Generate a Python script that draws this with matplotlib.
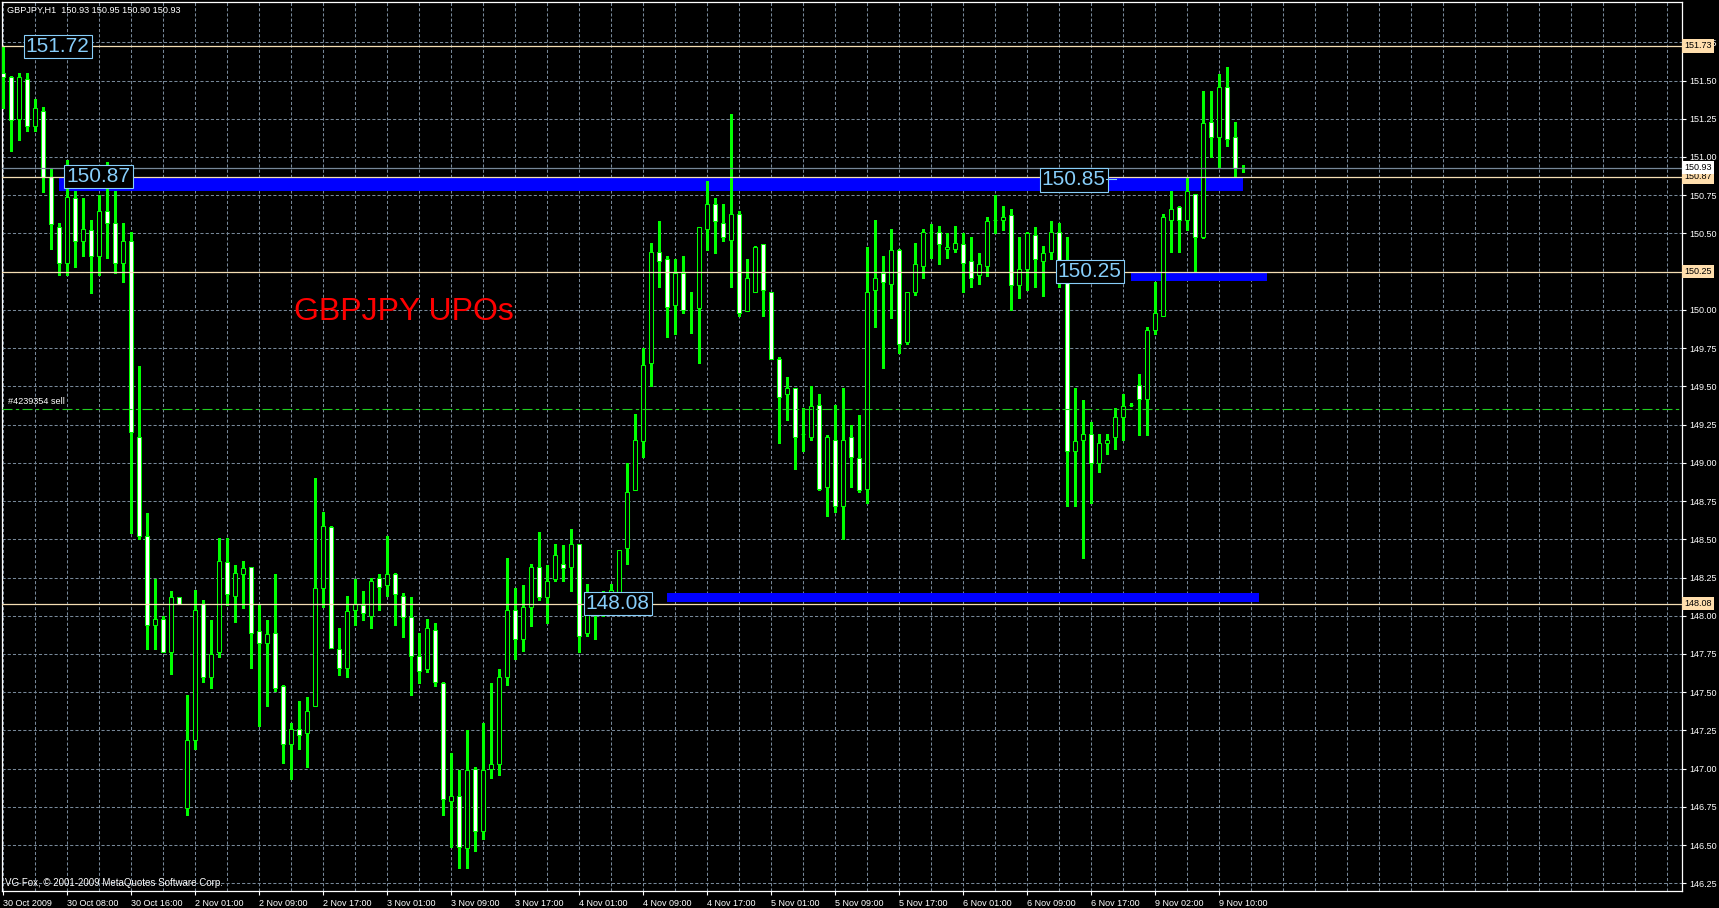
import numpy as np
import matplotlib
matplotlib.use("Agg")
import matplotlib.pyplot as plt
from matplotlib.patches import Rectangle

# GBPJPY H1 bars (open, high, low, close)
opens = [151.55, 151.52, 151.25, 151.51, 151.20, 151.30, 150.87, 150.54, 150.31, 150.73,
         150.45, 150.52, 150.35, 150.65, 150.57, 150.31, 150.45, 149.17, 148.52, 147.94,
         147.98, 147.76, 148.12, 146.74, 147.19, 148.08, 147.60, 147.76, 148.35, 148.13,
         148.27, 148.32, 147.90, 147.82, 147.89, 147.54, 147.16, 147.26, 147.23, 147.41,
         148.18, 148.58, 147.78, 147.66, 148.04, 148.07, 148.00, 148.25, 148.20, 148.27,
         148.13, 147.99, 147.74, 147.65, 147.91, 147.56, 146.79, 146.82, 146.48, 147.00,
         146.59, 147.00, 147.03, 147.60, 148.04, 147.85, 148.06, 148.32, 148.12, 148.24,
         148.34, 148.32, 148.47, 147.89, 148.04, 148.08, 148.15, 148.15, 148.44, 148.82,
         149.14, 149.65, 150.38, 150.33, 150.03, 150.24, 150.00, 150.01, 150.53, 150.69,
         150.57, 150.46, 150.63, 149.99, 150.12, 150.43, 150.12, 149.68, 149.45, 149.49,
         149.19, 149.17, 149.38, 148.84, 149.15, 148.72, 149.17, 149.03, 148.83, 150.13,
         150.24, 150.17, 150.39, 149.79, 150.12, 150.29, 150.51, 150.51, 150.40, 150.40,
         150.43, 150.32, 150.23, 150.29, 150.59, 150.59, 150.62, 150.16, 150.27, 150.49,
         150.32, 150.38, 150.51, 150.25, 149.08, 149.15, 149.19, 149.00, 149.13, 149.17,
         149.30, 149.38, 149.51, 149.42, 149.87, 149.96, 150.59, 150.67, 150.59, 150.76,
         150.48, 151.23, 151.13, 151.46, 151.13, 150.93]
highs = [151.72, 151.53, 151.55, 151.55, 151.38, 151.33, 150.93, 150.57, 150.98, 150.78,
         150.73, 150.59, 150.75, 150.97, 150.78, 150.57, 150.51, 149.63, 148.67, 148.24,
         148.00, 148.16, 148.12, 147.48, 148.17, 148.10, 147.97, 148.51, 148.51, 148.33,
         148.36, 148.32, 148.08, 147.97, 148.27, 147.55, 147.30, 147.44, 147.47, 148.90,
         148.68, 148.59, 147.92, 148.13, 148.24, 148.16, 148.25, 148.27, 148.52, 148.28,
         148.15, 148.12, 147.89, 147.98, 147.95, 147.57, 147.10, 146.99, 147.25, 147.01,
         147.30, 147.56, 147.65, 148.38, 148.18, 148.20, 148.34, 148.55, 148.33, 148.47,
         148.46, 148.57, 148.47, 148.21, 148.12, 148.16, 148.21, 148.43, 149.00, 149.32,
         149.75, 150.44, 150.58, 150.35, 150.33, 150.35, 150.12, 150.54, 150.84, 150.73,
         150.69, 151.28, 150.65, 150.33, 150.42, 150.43, 150.12, 149.69, 149.56, 149.49,
         149.36, 149.50, 149.45, 149.18, 149.38, 149.49, 149.25, 149.31, 150.41, 150.59,
         150.35, 150.53, 150.40, 150.12, 150.44, 150.53, 150.56, 150.55, 150.50, 150.55,
         150.50, 150.48, 150.37, 150.61, 150.75, 150.68, 150.66, 150.48, 150.51, 150.54,
         150.42, 150.58, 150.57, 150.48, 149.49, 149.41, 149.27, 149.19, 149.19, 149.36,
         149.45, 149.39, 149.58, 149.89, 150.18, 150.63, 150.78, 150.68, 150.87, 150.76,
         151.43, 151.43, 151.54, 151.59, 151.23, 150.95]
lows = [151.32, 151.04, 151.11, 151.17, 151.17, 150.77, 150.40, 150.23, 150.23, 150.28,
        150.35, 150.11, 150.23, 150.34, 150.24, 150.18, 148.54, 148.50, 147.78, 147.78,
        147.76, 147.62, 148.08, 146.70, 147.13, 147.57, 147.53, 147.73, 148.07, 147.96,
        148.05, 147.66, 147.28, 147.41, 147.51, 147.04, 146.93, 147.13, 147.01, 147.41,
        148.06, 147.79, 147.61, 147.60, 147.94, 147.97, 147.92, 148.04, 148.13, 147.94,
        147.86, 147.48, 147.56, 147.63, 147.54, 146.70, 146.49, 146.35, 146.35, 146.46,
        146.54, 146.94, 146.96, 147.55, 147.72, 147.77, 147.93, 148.10, 147.95, 148.23,
        148.23, 148.16, 147.76, 147.87, 147.85, 148.00, 148.05, 148.10, 148.34, 148.82,
        149.04, 149.50, 150.15, 149.82, 149.84, 149.98, 149.85, 149.65, 150.39, 150.37,
        150.45, 150.15, 149.96, 149.99, 150.12, 149.96, 149.68, 149.13, 149.28, 148.96,
        149.08, 149.15, 148.82, 148.65, 148.68, 148.50, 148.84, 148.81, 148.74, 149.89,
        149.62, 149.95, 149.72, 149.78, 150.10, 150.21, 150.34, 150.30, 150.34, 150.38,
        150.12, 150.15, 150.17, 150.22, 150.50, 150.52, 150.00, 150.08, 150.13, 150.15,
        150.09, 150.33, 150.15, 148.72, 148.72, 148.38, 148.74, 148.94, 149.06, 149.09,
        149.15, 149.37, 149.18, 149.18, 149.84, 149.96, 150.38, 150.38, 150.52, 150.25,
        150.47, 151.00, 150.93, 151.07, 150.87, 150.90]
closes = [151.52, 151.24, 151.52, 151.20, 151.32, 150.87, 150.56, 150.31, 150.74, 150.45,
          150.53, 150.35, 150.65, 150.57, 150.31, 150.45, 149.20, 148.52, 147.94, 147.98,
          147.76, 148.12, 148.08, 147.19, 148.04, 147.60, 147.75, 148.36, 148.14, 148.28,
          148.31, 147.89, 147.82, 147.88, 147.53, 147.16, 147.26, 147.22, 147.38, 148.18,
          148.59, 147.79, 147.66, 148.03, 148.08, 148.02, 148.23, 148.19, 148.27, 148.14,
          147.99, 147.74, 147.64, 147.92, 147.57, 146.80, 146.82, 146.49, 146.99, 146.59,
          146.99, 147.03, 147.60, 148.04, 147.85, 148.06, 148.32, 148.12, 148.23, 148.40,
          148.31, 148.47, 147.87, 148.04, 148.10, 148.10, 148.17, 148.43, 148.81, 149.15,
          149.64, 150.38, 150.32, 150.02, 150.24, 150.00, 150.00, 150.54, 150.69, 150.58,
          150.48, 150.63, 149.98, 150.21, 150.41, 150.13, 149.68, 149.43, 149.49, 149.17,
          149.19, 149.37, 148.83, 149.17, 148.72, 149.15, 149.04, 148.82, 150.12, 150.21,
          150.18, 150.39, 149.78, 150.12, 150.30, 150.51, 150.51, 150.43, 150.41, 150.44,
          150.31, 150.21, 150.30, 150.58, 150.59, 150.61, 150.16, 150.27, 150.50, 150.33,
          150.37, 150.51, 150.26, 149.08, 149.14, 149.19, 149.00, 149.13, 149.15, 149.30,
          149.37, 149.38, 149.42, 149.87, 149.98, 150.61, 150.66, 150.59, 150.78, 150.48,
          151.22, 151.13, 151.46, 151.12, 150.93, 150.93]

time_labels = ["30 Oct 2009", "30 Oct 08:00", "30 Oct 16:00", "2 Nov 01:00", "2 Nov 09:00",
               "2 Nov 17:00", "3 Nov 01:00", "3 Nov 09:00", "3 Nov 17:00", "4 Nov 01:00",
               "4 Nov 09:00", "4 Nov 17:00", "5 Nov 01:00", "5 Nov 09:00", "5 Nov 17:00",
               "6 Nov 01:00", "6 Nov 09:00", "6 Nov 17:00", "9 Nov 02:00", "9 Nov 10:00"]

# horizontal lines and their scale tags
hline_levels = [151.726, 150.87, 150.25, 148.08]
hline_tags = ["151.73", "150.87", "150.25", "148.08"]
bid_level = 150.93
order_level = 149.35
order_text = "#4239354 sell"

# blue zones (bar index from/to, price low/high)
zone_from = [7, 141, 83]
zone_to = [155, 158, 157]
zone_low = [150.78, 150.19, 148.09]
zone_high = [150.86, 150.25, 148.15]

# price label objects
tag_text = ["151.72", "150.87", "150.85", "150.25", "148.08"]
tag_bar = [6.8, 11.9, 133.8, 135.8, 76.8]
tag_price = [151.72, 150.87, 150.85, 150.25, 148.08]

W, H = 1719, 908
plt.rcParams["font.family"] = ["Liberation Sans", "DejaVu Sans"]
fig = plt.figure(figsize=(W / 100, H / 100), dpi=100, facecolor="black")
ax = fig.add_axes([2 / W, 17 / H, 1680 / W, 889 / H], facecolor="black")
ax.set_xlim(-0.166, 209.83)
ax.set_ylim(146.2, 152.0136)

lime = "#00ff00"
grid_c = "#778899"
wheat = "#f5deb3"
sky = "#87cefa"

# grid
for k in range(0, 210, 4):
    ax.axvline(k, color=grid_c, lw=0.75, ls=(0, (3, 2)), zorder=0)
for p in np.arange(146.25, 151.76, 0.25):
    ax.axhline(p, color=grid_c, lw=0.75, ls=(0, (3, 2)), zorder=0)

# zones
for a, b, lo, hi in zip(zone_from, zone_to, zone_low, zone_high):
    ax.add_patch(Rectangle((a, lo), b - a, hi - lo, facecolor="#0000ff", edgecolor="none", zorder=1))

# candles
o = np.array(opens); c = np.array(closes); h = np.array(highs); l = np.array(lows)
x = np.arange(len(o))
ax.vlines(x, l, h, color=lime, lw=0.75, zorder=3, antialiased=False)
for i in range(len(x)):
    lo, hi = min(o[i], c[i]), max(o[i], c[i])
    face = "white" if c[i] < o[i] else "black"
    ax.add_patch(Rectangle((x[i] - 0.25, lo), 0.5, hi - lo, facecolor=face,
                           edgecolor=lime, lw=0.75, zorder=4))

# lines
for lev in hline_levels:
    ax.axhline(lev, color=wheat, lw=0.9, zorder=5)
ax.axhline(bid_level, color=grid_c, lw=0.9, zorder=5)
ax.axhline(order_level, color="#22cc22", lw=0.8, ls=(0, (9, 3, 3, 3)), zorder=5)
ax.text(0.6, order_level + 0.02, order_text, color="white", fontsize=6.6,
        va="bottom", ha="left", zorder=6)

# price labels
for t, b, p in zip(tag_text, tag_bar, tag_price):
    ax.text(b, p, t, color=sky, fontsize=15, ha="center", va="center", zorder=7,
            bbox=dict(boxstyle="square,pad=0.1", fc="black", ec=sky, lw=0.8))
ax.plot([137.8, 139.1], [150.853, 150.853], color=sky, lw=0.8, zorder=7)

ax.text(36.3, 149.986, "GBPJPY UPOs", color="#ff0000", fontsize=23, ha="left",
        va="center", zorder=7)

# axes styling
for s in ax.spines.values():
    s.set_color("white")
    s.set_linewidth(0.9)
yt = np.arange(146.25, 151.76, 0.25)
ax.yaxis.tick_right()
ax.set_yticks(yt)
# the 150.25 scale label sits under the line tag in the reference
ax.set_yticklabels(["" if abs(v - 150.25) < 1e-6 else "%.2f" % v for v in yt])
ax.set_xticks(range(0, 153, 8))
ax.set_xticklabels(time_labels, ha="left")
ax.tick_params(axis="both", colors="white", labelcolor="white", labelsize=6.5,
               length=3, width=0.8, direction="out")
ax.tick_params(axis="y", pad=2)
ax.tick_params(axis="x", pad=3)

ytr = ax.get_yaxis_transform()
for lev, t in zip(hline_levels, hline_tags):
    ax.text(1.0015, lev, t, transform=ytr, color="black", fontsize=6.5, ha="left",
            va="center", clip_on=False, zorder=8,
            bbox=dict(boxstyle="square,pad=0.25", fc="#ffdead", ec="none"))
ax.text(1.0015, bid_level, "150.93", transform=ytr, color="black", fontsize=6.5,
        ha="left", va="center", clip_on=False, zorder=8,
        bbox=dict(boxstyle="square,pad=0.25", fc="white", ec="none"))

fig.text(7 / W, 1 - 10.5 / H, "GBPJPY,H1  150.93 150.95 150.90 150.93", color="white",
         fontsize=6.6, ha="left", va="center")
fig.text(4.5 / W, 1 - 883 / H, "VG Fox, \u00a9 2001-2009 MetaQuotes Software Corp.",
         color="white", fontsize=7, ha="left", va="center")

fig.savefig("out.png", dpi=100, facecolor="black")
